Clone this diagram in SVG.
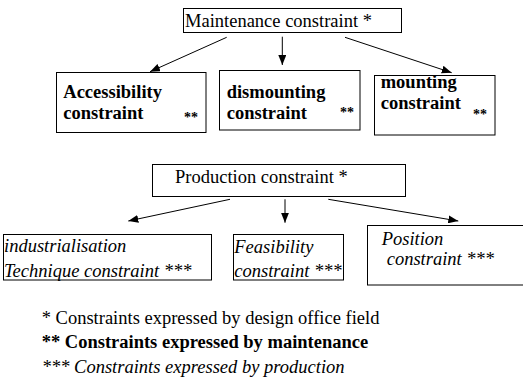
<svg xmlns="http://www.w3.org/2000/svg" width="523" height="383" viewBox="0 0 523 383">
<defs>
<marker id="ah" markerWidth="10" markerHeight="8" refX="10" refY="4" orient="auto" markerUnits="userSpaceOnUse">
<path d="M0,0 L10,4 L0,8 z" fill="#000"/>
</marker>
</defs>
<rect x="0" y="0" width="523" height="383" fill="#fff"/>
<g id="connectors" stroke="#000" stroke-width="1" marker-end="url(#ah)">
<line x1="226.7" y1="37.3" x2="150" y2="71.7"/>
<line x1="282.3" y1="36.7" x2="282.3" y2="65"/>
<line x1="345" y1="37.3" x2="451.7" y2="72.7"/>
<line x1="230" y1="199.3" x2="128.3" y2="221"/>
<line x1="285" y1="199.3" x2="285" y2="222.7"/>
<line x1="328.3" y1="199.3" x2="458.3" y2="221"/>
</g>
<g id="maintenance">
<rect x="183.5" y="8.5" width="218" height="24" fill="#fff" stroke="#000"/>
<text x="185" y="27.3" style="font-family:'Liberation Serif',serif;font-size:18.5px">Maintenance constraint *</text>
</g>
<g id="accessibility">
<rect x="56.5" y="72.5" width="149.5" height="60" fill="#fff" stroke="#000"/>
<text x="63.3" y="98.3" style="font-family:'Liberation Serif',serif;font-size:18.5px;font-weight:bold">Accessibility</text>
<text x="63.3" y="119.3" style="font-family:'Liberation Serif',serif;font-size:18.5px;font-weight:bold">constraint</text>
<text x="184" y="122" style="font-family:'Liberation Serif',serif;font-size:14px;font-weight:bold">**</text>
</g>
<g id="dismounting">
<rect x="219.5" y="70.5" width="140.5" height="59.5" fill="#fff" stroke="#000"/>
<text x="226.7" y="98.3" style="font-family:'Liberation Serif',serif;font-size:18.5px;font-weight:bold">dismounting</text>
<text x="226.7" y="119.3" style="font-family:'Liberation Serif',serif;font-size:18.5px;font-weight:bold">constraint</text>
<text x="340" y="117" style="font-family:'Liberation Serif',serif;font-size:14px;font-weight:bold">**</text>
</g>
<g id="mounting">
<rect x="374.5" y="75.5" width="120.5" height="59.5" fill="#fff" stroke="#000"/>
<text x="380.7" y="88.3" style="font-family:'Liberation Serif',serif;font-size:18.5px;font-weight:bold">mounting</text>
<text x="380.7" y="109.3" style="font-family:'Liberation Serif',serif;font-size:18.5px;font-weight:bold">constraint</text>
<text x="473" y="119" style="font-family:'Liberation Serif',serif;font-size:14px;font-weight:bold">**</text>
</g>
<g id="production">
<rect x="152.5" y="164.5" width="253" height="32" fill="#fff" stroke="#000"/>
<text x="175" y="183.3" style="font-family:'Liberation Serif',serif;font-size:18.5px">Production constraint *</text>
</g>
<g id="industrialisation">
<rect x="3.5" y="234.5" width="208" height="45.5" fill="#fff" stroke="#000"/>
<text x="4" y="251.7" style="font-family:'Liberation Serif',serif;font-size:18.5px;font-style:italic">industrialisation</text>
<text x="4" y="276.7" style="font-family:'Liberation Serif',serif;font-size:18.5px;font-style:italic">Technique constraint ***</text>
</g>
<g id="feasibility">
<rect x="233.5" y="234.5" width="110" height="45.5" fill="#fff" stroke="#000"/>
<text x="234.3" y="252.5" style="font-family:'Liberation Serif',serif;font-size:18.5px;font-style:italic">Feasibility</text>
<text x="234.3" y="276.7" style="font-family:'Liberation Serif',serif;font-size:18.5px;font-style:italic">constraint ***</text>
</g>
<g id="position">
<rect x="367.5" y="225.5" width="160" height="59.5" fill="#fff" stroke="#000"/>
<text x="381.7" y="245" style="font-family:'Liberation Serif',serif;font-size:18.5px;font-style:italic">Position</text>
<text x="386.7" y="265" style="font-family:'Liberation Serif',serif;font-size:18.5px;font-style:italic">constraint ***</text>
</g>
<g id="legend">
<text x="41.7" y="324" style="font-family:'Liberation Serif',serif;font-size:18.5px">* Constraints expressed by design office field</text>
<text x="41.7" y="348" style="font-family:'Liberation Serif',serif;font-size:18.5px;font-weight:bold">** Constraints expressed by maintenance</text>
<text x="41.7" y="372.5" style="font-family:'Liberation Serif',serif;font-size:18.5px;font-style:italic">*** Constraints expressed by production</text>
</g>
</svg>
